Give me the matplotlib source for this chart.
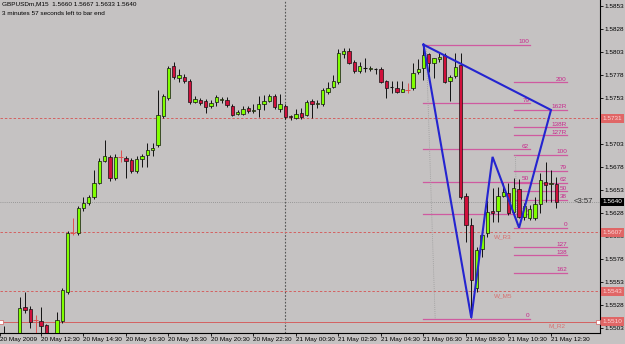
import matplotlib
matplotlib.use("Agg")
import matplotlib.pyplot as plt
from matplotlib.patches import Rectangle
import matplotlib.transforms as mtransforms

# GBPUSDm M15 bars, 20 May 10:45 .. 21 May 12:45
opens = [1.5496, 1.5490, 1.5486, 1.5494, 1.5526, 1.5524, 1.5512, 1.5511, 1.5506, 1.5494,
         1.5492, 1.5511, 1.5542, 1.5606, 1.5606, 1.5633, 1.5639, 1.5645, 1.5661, 1.5685,
         1.5689, 1.5666, 1.5689, 1.5688, 1.5686, 1.5674, 1.5687, 1.5691, 1.5696, 1.5702,
         1.5733, 1.5753, 1.5788, 1.5775, 1.5776, 1.5772, 1.5749, 1.5751, 1.5750, 1.5744,
         1.5749, 1.5751, 1.5751, 1.5744, 1.5736, 1.5736, 1.5742, 1.5739, 1.5741, 1.5747,
         1.5750, 1.5755, 1.5741, 1.5744, 1.5733, 1.5731, 1.5737, 1.5735, 1.5750, 1.5746,
         1.5747, 1.5760, 1.5765, 1.5770, 1.5801, 1.5804, 1.5792, 1.5782, 1.5786, 1.5784,
         1.5785, 1.5785, 1.5771, 1.5765, 1.5764, 1.5760, 1.5762, 1.5764, 1.5781, 1.5786,
         1.5801, 1.5791, 1.5795, 1.5800, 1.5772, 1.5777, 1.5789, 1.5646, 1.5615, 1.5546,
         1.5589, 1.5606, 1.5630, 1.5630, 1.5646, 1.5650, 1.5629, 1.5654, 1.5624, 1.5623,
         1.5623, 1.5638, 1.5662, 1.5659, 1.5660]
highs = [1.5505, 1.5496, 1.5496, 1.5537, 1.5542, 1.5527, 1.5517, 1.5526, 1.5507, 1.5496,
         1.5520, 1.5546, 1.5608, 1.5623, 1.5636, 1.5645, 1.5648, 1.5675, 1.5688, 1.5707,
         1.5691, 1.5692, 1.5696, 1.5690, 1.5688, 1.5690, 1.5692, 1.5704, 1.5704, 1.5762,
         1.5757, 1.5788, 1.5792, 1.5785, 1.5779, 1.5774, 1.5755, 1.5753, 1.5752, 1.5751,
         1.5756, 1.5754, 1.5754, 1.5746, 1.5740, 1.5744, 1.5744, 1.5746, 1.5755, 1.5756,
         1.5757, 1.5757, 1.5757, 1.5746, 1.5735, 1.5741, 1.5742, 1.5751, 1.5752, 1.5751,
         1.5764, 1.5770, 1.5778, 1.5806, 1.5807, 1.5807, 1.5794, 1.5792, 1.5797, 1.5788,
         1.5786, 1.5787, 1.5773, 1.5771, 1.5771, 1.5771, 1.5769, 1.5791, 1.5795, 1.5810,
         1.5802, 1.5797, 1.5802, 1.5802, 1.5778, 1.5802, 1.5802, 1.5650, 1.5623, 1.5591,
         1.5609, 1.5642, 1.5655, 1.5656, 1.5661, 1.5661, 1.5666, 1.5665, 1.5639, 1.5637,
         1.5645, 1.5671, 1.5683, 1.5675, 1.5667]
lows = [1.5485, 1.5480, 1.5482, 1.5490, 1.5519, 1.5503, 1.5496, 1.5496, 1.5488, 1.5485,
        1.5488, 1.5508, 1.5540, 1.5604, 1.5604, 1.5630, 1.5637, 1.5643, 1.5659, 1.5683,
        1.5663, 1.5664, 1.5683, 1.5666, 1.5672, 1.5672, 1.5678, 1.5678, 1.5690, 1.5700,
        1.5731, 1.5751, 1.5774, 1.5770, 1.5769, 1.5747, 1.5748, 1.5745, 1.5737, 1.5742,
        1.5744, 1.5748, 1.5743, 1.5733, 1.5734, 1.5734, 1.5737, 1.5737, 1.5732, 1.5740,
        1.5749, 1.5741, 1.5738, 1.5730, 1.5729, 1.5730, 1.5730, 1.5733, 1.5731, 1.5742,
        1.5744, 1.5757, 1.5764, 1.5768, 1.5796, 1.5790, 1.5780, 1.5780, 1.5781, 1.5782,
        1.5779, 1.5769, 1.5753, 1.5758, 1.5758, 1.5759, 1.5758, 1.5762, 1.5779, 1.5773,
        1.5781, 1.5775, 1.5792, 1.5769, 1.5750, 1.5775, 1.5643, 1.5597, 1.5514, 1.5542,
        1.5580, 1.5602, 1.5618, 1.5618, 1.5645, 1.5626, 1.5627, 1.5623, 1.5620, 1.5620,
        1.5620, 1.5628, 1.5640, 1.5640, 1.5633]
closes = [1.5490, 1.5486, 1.5494, 1.5525, 1.5523, 1.5509, 1.5512, 1.5505, 1.5494, 1.5490,
          1.5512, 1.5544, 1.5606, 1.5606, 1.5633, 1.5639, 1.5645, 1.5661, 1.5685, 1.5690,
          1.5666, 1.5689, 1.5689, 1.5685, 1.5674, 1.5687, 1.5690, 1.5696, 1.5699, 1.5734,
          1.5755, 1.5786, 1.5776, 1.5778, 1.5771, 1.5749, 1.5752, 1.5748, 1.5743, 1.5748,
          1.5754, 1.5752, 1.5745, 1.5735, 1.5738, 1.5741, 1.5739, 1.5740, 1.5746, 1.5750,
          1.5755, 1.5743, 1.5746, 1.5732, 1.5732, 1.5736, 1.5732, 1.5749, 1.5747, 1.5748,
          1.5762, 1.5764, 1.5771, 1.5802, 1.5804, 1.5791, 1.5782, 1.5788, 1.5786, 1.5786,
          1.5785, 1.5770, 1.5764, 1.5765, 1.5760, 1.5763, 1.5762, 1.5780, 1.5785, 1.5800,
          1.5791, 1.5796, 1.5798, 1.5770, 1.5776, 1.5787, 1.5645, 1.5615, 1.5555, 1.5588,
          1.5604, 1.5629, 1.5628, 1.5647, 1.5651, 1.5628, 1.5655, 1.5624, 1.5636, 1.5632,
          1.5638, 1.5664, 1.5658, 1.5661, 1.5640]
cross_bars = [6, 13, 22, 76]

time_labels = ["20 May 2009", "20 May 12:30", "20 May 14:30", "20 May 16:30", "20 May 18:30",
               "20 May 20:30", "20 May 22:30", "21 May 00:30", "21 May 02:30", "21 May 04:30",
               "21 May 06:30", "21 May 08:30", "21 May 10:30", "21 May 12:30"]
time_label_bars = [-0.7, 7, 15, 23, 31, 39, 47, 55, 63, 71, 79, 87, 95, 103]
day_separator = 53

price_ticks = [1.5503, 1.5528, 1.5553, 1.5578, 1.5603, 1.5628, 1.5653, 1.5678,
               1.5703, 1.5728, 1.5753, 1.5778, 1.5803, 1.5828, 1.5853]

# pivot lines
pivot_levels = [1.5731, 1.5607, 1.5543, 1.5510]
pivot_styles = ["dashed", "dashed", "dashed", "solid"]
pivot_names = ["W_R3", "W_M5", "M_R2"]
pivot_name_levels = [1.5607, 1.5543, 1.5510]
pivot_name_bars = [92.3, 92.3, 102.5]

# harmonic pattern
pattern_bars = [79, 88, 92, 97, 103, 79]
pattern_prices = [1.5811, 1.5514, 1.5689, 1.5612, 1.5740, 1.5811]

# fibo retracement (left) and expansion (right)
fib1_low, fib1_high = 1.5513, 1.5811
fib1_ratios = [0, 0.382, 0.5, 0.618, 0.786, 1.0]
fib1_names = ["0", "38", "50", "62", "79", "100"]
fib2_low, fib2_high = 1.5612, 1.5691
fib2_ratios = [-0.618, -0.382, -0.272, 0, 0.382, 0.5, 0.618, 0.786, 1.0, 1.272, 1.382, 1.618, 2.0]
fib2_names = ["162", "138", "127", "0", "38", "50", "62", "79", "100", "127R", "138R", "162R", "200"]

bid = 1.5640

bg = "#c5c2c2"
fig = plt.figure(figsize=(6.25, 3.44), dpi=100, facecolor=bg)
ax = fig.add_axes([0, 11 / 344, 600 / 625, 333 / 344], facecolor=bg)
ax.set_xlim(-3.8 / 5.3125, (600 - 3.8) / 5.3125)
ax.set_ylim(1.5853 - 327 / 9200, 1.5853 + 6 / 9200)

font = "Liberation Sans"
fs = 4.6

# day separator and bid line
ax.axvline(day_separator, color="#555555", lw=0.8, ls=(0, (1.5, 1.5)), zorder=1)
ax.axhline(bid, color="#8a8a8a", lw=0.6, ls=(0, (1, 1.5)), zorder=1)

# pivot lines
for lev, st in zip(pivot_levels, pivot_styles):
    ls = (0, (2.5, 2)) if st == "dashed" else "-"
    ax.axhline(lev, color="#d46060", lw=0.7, ls=ls, zorder=1)
for name, lev, b in zip(pivot_names, pivot_name_levels, pivot_name_bars):
    ax.text(b, lev - 0.0002, name, color="#d87070", fontsize=fs, family=font,
            ha="left", va="top", zorder=2)

# fibo levels
fib_line = "#cf5aa0"
fib_text = "#c8288c"
for r, n in zip(fib1_ratios, fib1_names):
    lev = fib1_low + r * (fib1_high - fib1_low)
    ax.plot([79, 99], [lev, lev], color=fib_line, lw=0.9, zorder=2)
    ax.text(98.9, lev + 0.00008, n, color=fib_text, fontsize=fs, family=font,
            ha="right", va="bottom", zorder=2)
ax.plot([79.5, 81.2], [fib1_high, fib1_low], color="#9a9a9a", lw=0.6, ls=(0, (1, 1.5)), zorder=2)
for r, n in zip(fib2_ratios, fib2_names):
    lev = fib2_low + r * (fib2_high - fib2_low)
    ax.plot([96, 106], [lev, lev], color=fib_line, lw=0.9, zorder=2)
    ax.text(106, lev + 0.00008, n, color=fib_text, fontsize=fs, family=font,
            ha="right", va="bottom", zorder=2)
ax.plot([96.3, 96.6], [fib2_high, fib2_low], color="#9a9a9a", lw=0.6, ls=(0, (1, 1.5)), zorder=2)

# candles
bw = 0.62
for i, (o, h, l, c) in enumerate(zip(opens, highs, lows, closes)):
    if i in cross_bars:
        ax.vlines(i, l, h, color="#e05050", lw=0.7, zorder=3)
        ax.hlines(o, i - 0.45, i + 0.45, color="#e05050", lw=0.7, zorder=3)
        continue
    ax.vlines(i, l, h, color="#111111", lw=0.7, zorder=3)
    if c == o:
        ax.hlines(o, i - bw / 2, i + bw / 2, color="#111111", lw=0.8, zorder=4)
        continue
    col = "#80ff00" if c > o else "#d0103c"
    ax.add_patch(Rectangle((i - bw / 2, min(o, c)), bw, abs(c - o), facecolor=col,
                           edgecolor="#111111", lw=0.5, zorder=4))

# pattern
ax.plot(pattern_bars, pattern_prices, color="#2424d0", lw=1.5, zorder=5, solid_joinstyle="miter")

# anchors of the selected line
ax.plot([-0.55, 111.9], [1.5510, 1.5510], ls="none", marker="s", ms=2.5,
        mfc="white", mec="#d46060", mew=0.5, zorder=6, clip_on=False)

# header
ax.text(0.003, 0.997, "GBPUSDm,M15  1.5660 1.5667 1.5633 1.5640", transform=ax.transAxes,
        fontsize=fs, family=font, ha="left", va="top", color="black")
ax.text(0.003, 0.968, "3 minutes 57 seconds left to bar end", transform=ax.transAxes,
        fontsize=fs, family=font, ha="left", va="top", color="black")
ax.text(107.2, bid, "<3:57", fontsize=5.6, family=font, ha="left", va="center", color="#303030")

# axes
for s in ["left", "top"]:
    ax.spines[s].set_visible(False)
ax.spines["right"].set_color("black")
ax.spines["bottom"].set_color("black")
ax.spines["right"].set_linewidth(0.8)
ax.spines["bottom"].set_linewidth(0.8)
ax.yaxis.tick_right()
ax.set_yticks(price_ticks)
ax.set_yticklabels(["%.4f" % p for p in price_ticks], fontsize=fs, family=font)
ax.tick_params(axis="y", length=2.0, width=0.6, pad=1.2)
ax.set_xticks(time_label_bars)
ax.set_xticklabels(time_labels, fontsize=fs, family=font, ha="left")
ax.tick_params(axis="x", length=2.2, width=0.6, pad=0.8)

# price boxes on the scale
trans = mtransforms.blended_transform_factory(ax.transAxes, ax.transData)
box_levels = [1.5731, 1.5607, 1.5543, 1.5510, bid]
box_colors = ["#e06666", "#e06666", "#e06666", "#e06666", "black"]
box_text = ["#ffd8d8", "#ffd8d8", "#ffd8d8", "#ffd8d8", "white"]
for lev, bc, tc in zip(box_levels, box_colors, box_text):
    ax.text(1.0045, lev, "%.4f" % lev, transform=trans, fontsize=fs, family=font,
            ha="left", va="center", color=tc, clip_on=False, zorder=10,
            bbox=dict(boxstyle="square,pad=0.3", facecolor=bc, edgecolor="none"))

fig.savefig("out.png", dpi=100, facecolor=bg)
